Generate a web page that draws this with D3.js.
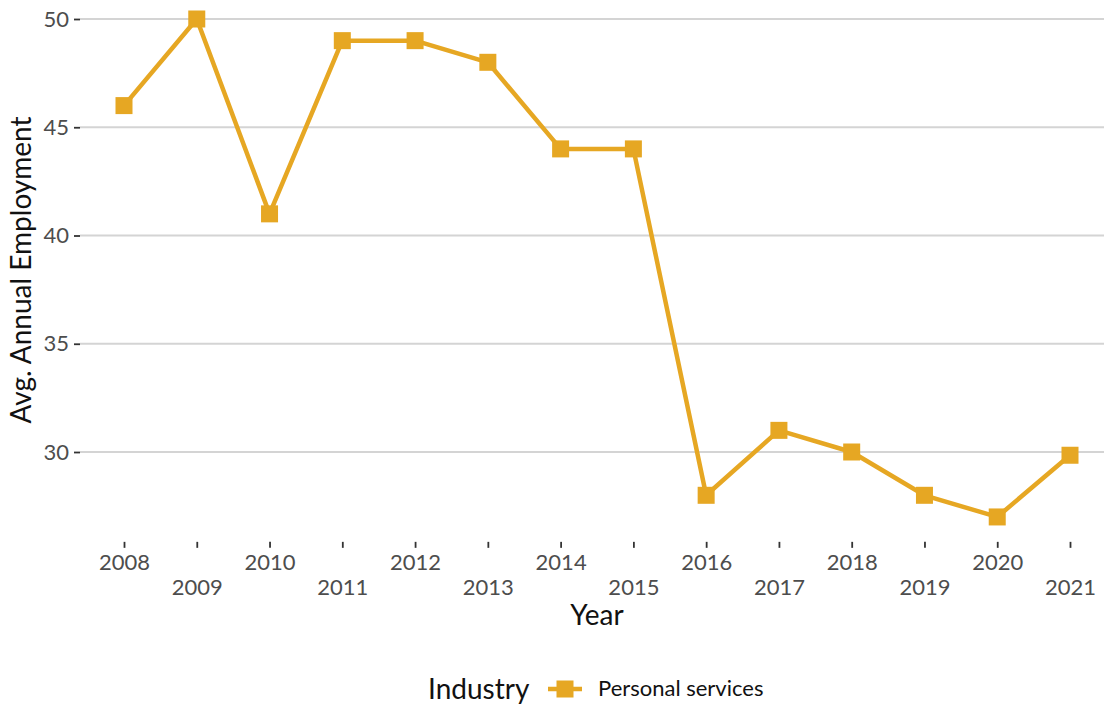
<!DOCTYPE html>
<html><head><meta charset="utf-8">
<script src="https://cdn.jsdelivr.net/npm/d3@7"></script>
<style>body{margin:0;background:#fff}svg{display:block;font-family:Lato,sans-serif}</style>
</head><body><svg id="c" width="1104" height="705"></svg>
<script>
const years = [2008,2009,2010,2011,2012,2013,2014,2015,2016,2017,2018,2019,2020,2021];
const employment = [46,50,41,49,49,48,44,44,28,31,30,28,27,29.85];
const yTicks = [30,35,40,45,50];
const seriesName = "Personal services";
const color = "#E6A723";

const svg = d3.select("#c");
const x = d3.scaleLinear().domain([2008,2021]).range([124,1070]);
const y = d3.scaleLinear().domain([30,50]).range([452,19]);
const panelL = 80, panelR = 1104, panelB = y(25.85);

// gridlines
svg.append("g").selectAll("line").data(yTicks).join("line")
  .attr("x1",panelL).attr("x2",panelR).attr("y1",d=>y(d)).attr("y2",d=>y(d))
  .attr("stroke","#d4d4d4").attr("stroke-width",1.8);

// y axis
const ya = svg.append("g").attr("transform",`translate(${panelL},0)`)
  .call(d3.axisLeft(y).tickValues(yTicks).tickSize(6).tickPadding(5));
ya.select(".domain").remove();
ya.selectAll(".tick line").attr("stroke","#333").attr("stroke-width",1.8);
ya.selectAll(".tick text").attr("fill","#4d4d4d").style("font-size","22px").style("font-family","Lato");

// x axis
const xa = svg.append("g").attr("transform",`translate(0,${panelB})`)
  .call(d3.axisBottom(x).tickValues(years).tickFormat(d3.format("d")).tickSize(6).tickPadding(7));
xa.select(".domain").remove();
xa.selectAll(".tick line").attr("stroke","#333").attr("stroke-width",1.8);
xa.selectAll(".tick text").attr("fill","#4d4d4d").style("font-size","22px").style("font-family","Lato")
  .attr("dy", (d,i)=> i%2===0 ? "0.71em" : "1.82em");

// line
const line = d3.line().x((d,i)=>x(years[i])).y(d=>y(d));
svg.append("path").datum(employment).attr("d",line)
  .attr("fill","none").attr("stroke",color).attr("stroke-width",4.5).attr("stroke-linejoin","round");
const s = 17;
svg.append("g").selectAll("rect").data(employment).join("rect")
  .attr("x",(d,i)=>x(years[i])-s/2).attr("y",d=>y(d)-s/2).attr("width",s).attr("height",s)
  .attr("fill",color);

// axis titles
svg.append("text").attr("x",597).attr("y",625).attr("text-anchor","middle")
  .style("font-size","28px").attr("fill","#111").text("Year");
svg.append("text").attr("transform",`translate(31,270) rotate(-90)`).attr("text-anchor","middle")
  .style("font-size","28px").attr("fill","#111").text("Avg. Annual Employment");

// legend
const lg = svg.append("g");
lg.append("text").attr("x",428).attr("y",699).style("font-size","28px").attr("fill","#111").text("Industry");
lg.append("line").attr("x1",548).attr("x2",582).attr("y1",689).attr("y2",689).attr("stroke",color).attr("stroke-width",4.5);
lg.append("rect").attr("x",565-s/2).attr("y",689-s/2).attr("width",s).attr("height",s).attr("fill",color);
lg.append("text").attr("x",598).attr("y",696).style("font-size","22px").attr("fill","#111").text(seriesName);
</script></body></html>
